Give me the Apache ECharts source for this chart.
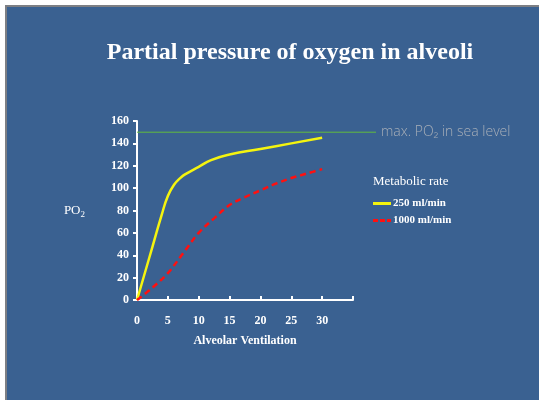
<!DOCTYPE html>
<html>
<head>
<meta charset="utf-8">
<script src="https://cdn.jsdelivr.net/npm/echarts@6/dist/echarts.min.js"></script>
<style>
  html, body { margin: 0; padding: 0; background: #ffffff; overflow: hidden; width: 539px; height: 400px; }
  #slide { position: absolute; left: 7px; top: 7px; width: 560px; height: 420px;
           background: #3a6191; box-shadow: -2px -2px 0 #7d7f84; }
  #chart { position: absolute; left: 0; top: 0; width: 539px; height: 400px; }
</style>
</head>
<body>
<div id="slide"></div>
<div id="chart"></div>
<script>
// Alveolar ventilation (L/min) vs alveolar PO2 (mmHg) at two metabolic rates
const ventLow = [0, 2, 4, 5, 6, 7, 8, 10, 12, 15, 20, 25, 30];
const po2Low  = [0, 38, 76, 93, 103, 109, 113, 119, 125, 130, 135, 140, 145];

const ventHigh = [0, 2.5, 5, 7.5, 10, 12.5, 15, 17.5, 20, 22.5, 25, 27.5, 30];
const po2High  = [0, 11, 24, 42, 60, 73, 85, 92, 98, 104, 109, 113, 117];

// Sea-level maximum PO2 reference
const seaLevelPO2 = 150;
const refLineX = [0, 38.7];

const seriesNames = ['250 ml/min', '1000 ml/min'];
const xTicks = [0, 5, 10, 15, 20, 25, 30];

const serif = '"Liberation Serif", "Times New Roman", serif';

const chart = echarts.init(document.getElementById('chart'), null, { renderer: 'canvas' });

chart.setOption({
  backgroundColor: 'transparent',
  animation: false,
  title: [
    {
      text: 'Partial pressure of oxygen in alveoli',
      left: 285, top: 36, textAlign: 'center',
      textStyle: { color: '#ffffff', fontFamily: serif, fontWeight: 'bold', fontSize: 24 }
    },
    {
      text: 'Metabolic rate',
      left: 368, top: 170,
      textStyle: { color: '#ffffff', fontFamily: serif, fontWeight: 'normal', fontSize: 13 }
    }
  ],
  legend: {
    data: [
      { name: seriesNames[0], icon: 'path://M0,0H18V3H0Z' },
      { name: seriesNames[1], icon: 'path://M0,0H5V3H0Z M7,0H12V3H7Z M14,0H18V3H14Z' }
    ],
    orient: 'vertical',
    left: 368, top: 193,
    itemWidth: 18, itemHeight: 3, itemGap: 6,
    textStyle: { color: '#ffffff', fontFamily: serif, fontWeight: 'bold', fontSize: 11, padding: [0, 0, 0, -3] }
  },
  grid: [
    { left: 137, top: 121, width: 216, height: 179 },
    { left: 137, top: 121, width: 239, height: 179 }
  ],
  xAxis: [
    {
      type: 'value', gridIndex: 0, min: 0, max: 35, interval: 5,
      name: 'Alveolar Ventilation', nameLocation: 'middle', nameGap: 35,
      nameTextStyle: { color: '#ffffff', fontFamily: serif, fontWeight: 'bold', fontSize: 12 },
      axisLine: { show: true, lineStyle: { color: '#ffffff', width: 2 } },
      axisTick: { show: true, inside: true, length: 4, lineStyle: { color: '#ffffff', width: 2 } },
      axisLabel: {
        color: '#ffffff', fontFamily: serif, fontWeight: 'bold', fontSize: 12, margin: 15,
        formatter: v => (xTicks.indexOf(v) >= 0 ? String(v) : '')
      },
      splitLine: { show: false }
    },
    { type: 'value', gridIndex: 1, min: 0, max: 38.7, show: false }
  ],
  yAxis: [
    {
      type: 'value', gridIndex: 0, min: 0, max: 160, interval: 20,
      name: '{n|PO}{s|2}', nameLocation: 'middle', nameRotate: 0, nameGap: 52,
      nameTextStyle: {
        color: '#ffffff', fontFamily: serif,
        rich: {
          n: { color: '#ffffff', fontFamily: serif, fontSize: 13 },
          s: { color: '#ffffff', fontFamily: serif, fontSize: 9, padding: [8, 0, 0, 0] }
        }
      },
      axisLine: { show: true, lineStyle: { color: '#ffffff', width: 2 } },
      axisTick: { show: true, inside: false, length: 4, lineStyle: { color: '#ffffff', width: 2 } },
      axisLabel: { color: '#ffffff', fontFamily: serif, fontWeight: 'bold', fontSize: 12, margin: 8 },
      splitLine: { show: false }
    },
    { type: 'value', gridIndex: 1, min: 0, max: 160, show: false }
  ],
  series: [
    {
      name: seriesNames[0], type: 'line', xAxisIndex: 0, yAxisIndex: 0,
      data: ventLow.map((v, i) => [v, po2Low[i]]),
      smooth: 0.5, symbol: 'none',
      lineStyle: { color: '#f4f40f', width: 2.5 },
      itemStyle: { color: '#f4f40f' }
    },
    {
      name: seriesNames[1], type: 'line', xAxisIndex: 0, yAxisIndex: 0,
      data: ventHigh.map((v, i) => [v, po2High[i]]),
      smooth: 0.35, symbol: 'none',
      lineStyle: { color: '#ff1010', width: 2.5, type: [6, 4] },
      itemStyle: { color: '#ff1010' }
    },
    {
      name: 'sea level', type: 'line', xAxisIndex: 1, yAxisIndex: 1,
      data: refLineX.map(v => [v, seaLevelPO2]),
      symbol: 'none', silent: true,
      lineStyle: { color: '#62bb3e', width: 1 },
      endLabel: {
        show: true, distance: 5,
        formatter: 'max. PO\u2082 in sea level',
        color: '#a8afb8', fontFamily: '"Open Sans", "DejaVu Sans", sans-serif',
        fontWeight: 300, fontSize: 14
      }
    }
  ]
});
</script>
</body>
</html>
